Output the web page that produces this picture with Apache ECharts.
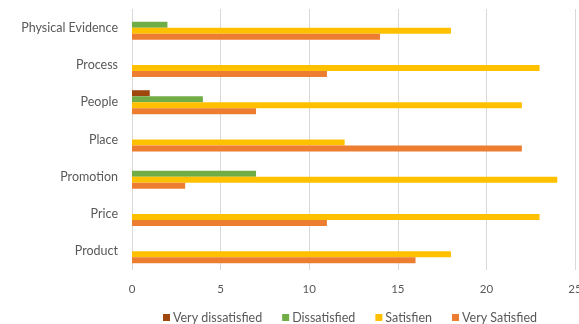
<!DOCTYPE html>
<html>
<head>
<meta charset="utf-8">
<script src="https://cdn.jsdelivr.net/npm/echarts@6/dist/echarts.min.js"></script>
<style>html,body{margin:0;padding:0;background:#fff}#c{width:579px;height:324px}</style>
</head>
<body>
<div id="c"></div>
<script>
var categories = ['Product', 'Price', 'Promotion', 'Place', 'People', 'Process', 'Physical Evidence'];
var seriesNames = ['Very dissatisfied', 'Dissatisfied', 'Satisfien', 'Very Satisfied'];
var veryDissatisfied = [0, 0, 0, 0, 1, 0, 0];
var dissatisfied = [0, 0, 7, 0, 4, 0, 2];
var satisfied = [18, 23, 24, 12, 22, 23, 18];
var verySatisfied = [16, 11, 3, 22, 7, 11, 14];
var xTicks = [0, 5, 10, 15, 20, 25];

var colors = ['#9E480E', '#70AD47', '#FFC000', '#ED7D31'];
var values = [veryDissatisfied, dissatisfied, satisfied, verySatisfied];
var font = 'Lato, "Open Sans", sans-serif';

var chart = echarts.init(document.getElementById('c'));
var series = seriesNames.map(function (n, i) {
  return {
    name: n, type: 'bar', data: values[i],
    barWidth: 6, barGap: '0%',
    itemStyle: { color: colors[i] },
    emphasis: { disabled: true }
  };
});
chart.setOption({
  animation: false,
  color: colors,
  grid: { left: 132, right: 4, top: 9, bottom: 54, containLabel: false, outerBoundsMode: 'none' },
  xAxis: {
    type: 'value', min: xTicks[0], max: xTicks[xTicks.length - 1], interval: 5,
    axisLine: { show: false }, axisTick: { show: false },
    splitLine: { lineStyle: { color: '#D9D9D9', width: 1 } },
    axisLabel: { color: '#595959', fontSize: 11.5, fontFamily: font, margin: 13 }
  },
  yAxis: {
    type: 'category', data: categories,
    axisLine: { show: false }, axisTick: { show: false },
    axisLabel: { color: '#595959', fontSize: 12.5, fontFamily: font, margin: 14 }
  },
  legend: {
    data: seriesNames, top: 311, left: 163, padding: 0,
    icon: 'rect', itemWidth: 7, itemHeight: 7, itemGap: 20, itemStyle: { borderWidth: 0 },
    textStyle: { color: '#595959', fontSize: 12.5, fontFamily: font, padding: [0, 0, 0, -2] }
  },
  series: series
});
</script>
</body>
</html>
